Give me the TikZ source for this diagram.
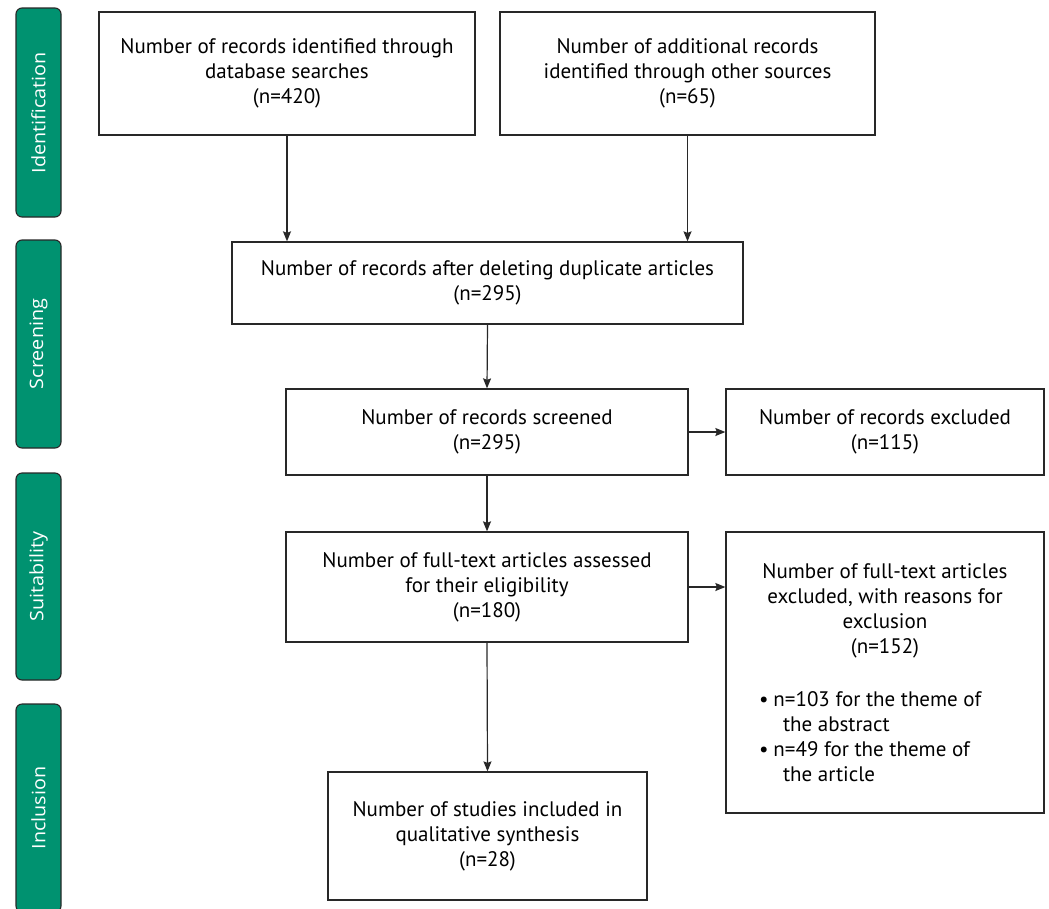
\documentclass[tikz,border=0pt]{standalone}
\usepackage{fontspec}
\setmainfont{PT Sans}
\newfontfamily\labfont{Open Sans}
\usetikzlibrary{arrows.meta}
\definecolor{phase}{RGB}{0,146,112}
\definecolor{edge}{RGB}{40,40,40}
\newcommand{\phaselabel}[1]{\scalebox{1.07}[1]{#1}}
\begin{document}
\begin{tikzpicture}[x=1pt,y=-1pt,
  box/.style={draw=edge, line width=1.3pt, align=center, inner sep=0pt,
    font=\fontsize{21}{25}\selectfont},
  phasebox/.style={draw=edge, line width=1.1pt, fill=phase, rounded corners=6pt,
    text=white, inner sep=0pt, minimum height=45pt, rotate=90,
    font=\labfont\fontsize{18.5}{20}\selectfont},
  arr/.style={-{Stealth[length=10pt,width=8pt,inset=1.5pt]}, line width=1.2pt, draw=edge}]
\fill[white] (0,0) rectangle (1049,908);
\useasboundingbox (0,0) rectangle (1049,908);

% phase labels
\node[phasebox, minimum width=209pt] (p1) at (38.5,112.5) {\phaselabel{Identification}};
\node[phasebox, minimum width=208pt] (p2) at (38.5,344) {\phaselabel{Screening}};
\node[phasebox, minimum width=207pt] (p3) at (38.5,576.5) {\phaselabel{Suitability}};
\node[phasebox, minimum width=208pt] (p4) at (38.5,808) {\phaselabel{Inclusion}};

% boxes
\node[box, minimum width=376pt, minimum height=123pt] (b1) at (287,73.5)
  {Number of records identified through\\database searches\\(n=420)};
\node[box, minimum width=375pt, minimum height=123pt] (b2) at (687.5,73.5)
  {Number of additional records\\identified through other sources\\(n=65)};
\node[box, minimum width=511pt, minimum height=82pt] (b3) at (487.5,283)
  {Number of records after deleting duplicate articles\\(n=295)};
\node[box, minimum width=402pt, minimum height=86pt] (b4) at (487,432)
  {Number of records screened\\(n=295)};
\node[box, minimum width=318pt, minimum height=86pt] (b5) at (885,432)
  {Number of records excluded\\(n=115)};
\node[box, minimum width=402pt, minimum height=110pt] (b6) at (487,587)
  {Number of full-text articles assessed\\for their eligibility\\(n=180)};
\node[box, minimum width=318pt, minimum height=281pt] (b7) at (885,672.5)
  {\begin{minipage}{300pt}\centering
   Number of full-text articles\\excluded, with reasons for\\exclusion\\(n=152)\\[28pt]
   \raggedright
   \hspace*{24pt}\textbullet\hspace{5pt}n=103 for the theme of\\
   \hspace*{48pt}the abstract\\
   \hspace*{24pt}\textbullet\hspace{5pt}n=49 for the theme of\\
   \hspace*{48pt}the article
   \end{minipage}};
\node[box, minimum width=319pt, minimum height=128pt] (b8) at (487.5,836)
  {Number of studies included in\\qualitative synthesis\\(n=28)};

% connectors
\draw[arr] (b1.south) -- (b1.south |- b3.north);
\draw[arr] (b2.south) -- (b2.south |- b3.north);
\draw[arr] (b3.south) -- (b4.north);
\draw[arr] (b4.east) -- (b5.west);
\draw[arr] (b4.south) -- (b6.north);
\draw[arr] (b6.east) -- (b6.east -| b7.west);
\draw[arr] (b6.south) -- (b8.north);
\end{tikzpicture}
\end{document}
